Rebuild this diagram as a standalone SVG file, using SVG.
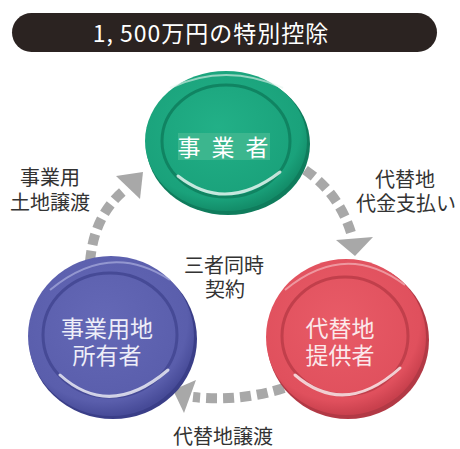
<svg xmlns="http://www.w3.org/2000/svg" width="460" height="449" viewBox="0 0 460 449">
<defs>
<style>
.lbl{font-family:"Liberation Sans","Noto Sans CJK JP",sans-serif;font-size:20px;fill:#333;text-anchor:middle}
.disk{font-family:"Liberation Sans","Noto Sans CJK JP",sans-serif;font-size:23px;text-anchor:middle}
.conn{fill:none;stroke:#a8a8a8;stroke-width:10;stroke-dasharray:11 6}
.head{fill:#a8a8a8}
.ring{fill:none;stroke-width:3}
.hl{fill:none;stroke:#ffffff;stroke-width:3;stroke-linecap:round;opacity:0.75}
</style>
<radialGradient id="gG" cx="0.45" cy="0.4" r="0.6">
<stop offset="0" stop-color="#22b087"/><stop offset="0.85" stop-color="#1aa27b"/><stop offset="1" stop-color="#138d69"/>
</radialGradient>
<radialGradient id="gB" cx="0.45" cy="0.4" r="0.6">
<stop offset="0" stop-color="#6468b6"/><stop offset="0.85" stop-color="#5a5eac"/><stop offset="1" stop-color="#474b98"/>
</radialGradient>
<radialGradient id="gR" cx="0.45" cy="0.4" r="0.6">
<stop offset="0" stop-color="#e85b67"/><stop offset="0.85" stop-color="#e0505d"/><stop offset="1" stop-color="#c9404d"/>
</radialGradient>
</defs>
<rect width="460" height="449" fill="#ffffff"/>
<g id="title">
<rect x="12" y="13" width="425" height="39" rx="19.5" fill="#2b2321"/>
<text x="211" y="42" font-family="'Noto Sans CJK JP','Noto Sans',sans-serif" font-size="23" fill="#ffffff" text-anchor="middle" letter-spacing="1">1, 500万円の特別控除</text>
</g>
<g id="connectors">
<path class="conn" d="M90 262 Q94 214 126 189"/>
<polygon class="head" points="116,176 143,172 140,199"/>
<path class="conn" d="M305 170 Q340 194 352 236"/>
<polygon class="head" points="336,240 373,237 355,256"/>
<path class="conn" d="M284 388 Q240 402 193 397"/>
<polygon class="head" points="196,380 173,390 184,413"/>
</g>
<g id="node-jigyosha">
<ellipse cx="228" cy="144" rx="82" ry="71" fill="#0f7c5c"/>
<ellipse cx="226" cy="141" rx="81" ry="70" fill="url(#gG)"/>
<path d="M170 88 Q226 62 283 88" fill="none" stroke="#e6f5ef" stroke-width="2" opacity="0.6"/>
<ellipse cx="226" cy="141" rx="64" ry="56" class="ring" stroke="#108462"/>
<path class="hl" d="M178 176 Q226 214 280 172"/>
<rect x="178" y="133" width="92" height="27" fill="#3cb68e"/>
<text class="disk" y="156" font-size="22" fill="#ffffff"><tspan x="189">事</tspan><tspan x="223">業</tspan><tspan x="257">者</tspan></text>
</g>
<g id="node-owner">
<ellipse cx="113" cy="339" rx="84" ry="80" fill="#3a3e88"/>
<ellipse cx="111" cy="336" rx="83" ry="80" fill="url(#gB)"/>
<path d="M50 290 Q110 240 170 280" fill="none" stroke="#b8bbe6" stroke-width="2" opacity="0.6"/>
<ellipse cx="110" cy="335" rx="67" ry="62" class="ring" stroke="#464a96"/>
<path class="hl" d="M60 375 Q110 420 168 370"/>
<text class="disk" fill="#eeeef8"><tspan x="107" y="337">事業用地</tspan><tspan x="107" y="364">所有者</tspan></text>
</g>
<g id="node-provider">
<ellipse cx="348" cy="340" rx="81" ry="79" fill="#b23945"/>
<ellipse cx="346" cy="337" rx="80" ry="78" fill="url(#gR)"/>
<path d="M285 290 Q345 240 405 285" fill="none" stroke="#f6c4c9" stroke-width="2" opacity="0.6"/>
<ellipse cx="345" cy="336" rx="63" ry="59" class="ring" stroke="#c13f4b"/>
<path class="hl" d="M295 375 Q345 418 400 368"/>
<text class="disk" fill="#fbe9eb"><tspan x="340" y="337">代替地</tspan><tspan x="340" y="364">提供者</tspan></text>
</g>
<g id="labels">
<text class="lbl"><tspan x="50" y="185">事業用</tspan><tspan x="50" y="210">土地譲渡</tspan></text>
<text class="lbl"><tspan x="405" y="187">代替地</tspan><tspan x="406" y="211">代金支払い</tspan></text>
<text class="lbl"><tspan x="224" y="273">三者同時</tspan><tspan x="225" y="297">契約</tspan></text>
<text class="lbl" x="223" y="444">代替地譲渡</text>
</g>
</svg>
